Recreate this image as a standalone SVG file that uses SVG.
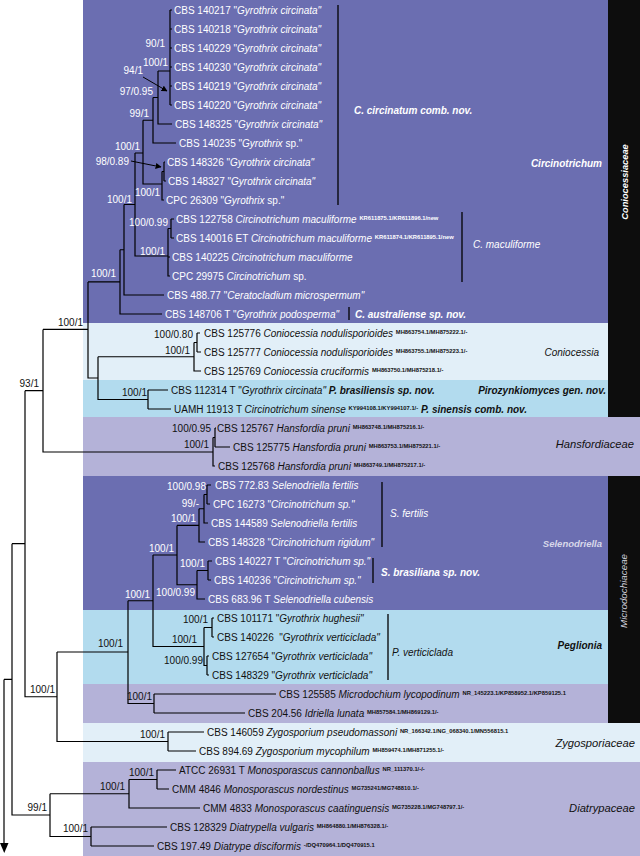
<svg xmlns="http://www.w3.org/2000/svg" width="640" height="856" viewBox="0 0 640 856">
<style>
text{font-family:"Liberation Sans",Arial,sans-serif;font-size:10px}
.w{fill:#fff}.k{fill:#111}
.i{font-style:italic}.b{font-weight:bold}
.s{font-size:5.8px;font-weight:bold;font-style:normal}
.e{text-anchor:end}
.fam{font-size:11.2px;font-style:italic;text-anchor:end;fill:#111}
.br{stroke:#000;stroke-width:1.2;fill:none}
.bar{stroke:#000;stroke-width:1.3}
.ar{stroke:#000;stroke-width:1;marker-end:url(#ah)}
</style>
<defs>
<marker id="ah" viewBox="0 0 10 10" refX="9" refY="5" markerWidth="6" markerHeight="6" orient="auto" markerUnits="userSpaceOnUse"><path d="M0,0 L10,5 L0,10 z" fill="#000"/></marker>
</defs>
<rect width="640" height="856" fill="#fff"/>
<g id="bands">
<rect x="83" y="0" width="525" height="323" fill="#6b6eb1"/>
<rect x="83" y="323" width="525" height="57" fill="#e2eff8"/>
<rect x="83" y="380" width="525" height="37" fill="#b2dbee"/>
<rect x="83" y="417" width="557" height="59" fill="#b4b2d8"/>
<rect x="83" y="476" width="525" height="134" fill="#6b6eb1"/>
<rect x="83" y="610" width="525" height="74" fill="#b2dbee"/>
<rect x="83" y="684" width="525" height="39" fill="#b4b2d8"/>
<rect x="83" y="723" width="557" height="39" fill="#e2eff8"/>
<rect x="83" y="762" width="557" height="94" fill="#b4b2d8"/>
<rect x="608" y="0" width="32" height="417" fill="#0d0d0d"/>
<rect x="608" y="476" width="32" height="247" fill="#0d0d0d"/>
</g>
<g id="connectors">
<path class="br" d="M170,10V105M170,10H172M170,29H172M170,48H172M170,67H172M170,86H172M170,105H172"/>
<path class="br" d="M158,71H170M158,71V124H172"/>
<path class="br" d="M153,97.5H158M153,97.5V143H176"/>
<path class="br" d="M143,120.25H153M143,120.25V184H162"/>
<path class="br" d="M162,171.5V200H164M162,171.5H164M164,162V181M164,162H165M164,181H166"/>
<path class="br" d="M135,153H143M135,153V256H168"/>
<path class="br" d="M168,228.5V276H170M168,228.5H171M171,219V238M171,219H174M171,238H174M168,257H170"/>
<path class="br" d="M124,204.5H135M124,204.5V295H164"/>
<path class="br" d="M120,249.75H124M120,249.75V314H162"/>
<path class="br" d="M88,281.9H120M88,281.9V378H98"/>
<path class="br" d="M98,356.75V399.5H148M98,356.75H194"/>
<path class="br" d="M194,342.5V371H201M194,342.5H197M197,333V352M197,333H200M197,352H201"/>
<path class="br" d="M148,390V409M148,390H168M148,409H171"/>
<path class="br" d="M43,329.4H88M43,329.4V452H213"/>
<path class="br" d="M213,437.5V466H215M213,437.5H215M215,428V447M215,428H216M215,447H230"/>
<path class="br" d="M25,390.7H43M25,390.7V696.75H57"/>
<path class="br" d="M57,652V741.5H168M57,652H128"/>
<path class="br" d="M128,600.75V703.5H154M128,600.75H153"/>
<path class="br" d="M153,555V646.5H204M153,555H177"/>
<path class="br" d="M177,525.4V584.75H197M177,525.4H199"/>
<path class="br" d="M199,508.75V542H205M199,508.75H204"/>
<path class="br" d="M204,494.5V523H208M204,494.5H207"/>
<path class="br" d="M207,485V504M207,485H211M207,504H210"/>
<path class="br" d="M197,570.5V599H205M197,570.5H208"/>
<path class="br" d="M208,561V580M208,561H212M208,580H211"/>
<path class="br" d="M204,627.5V665.5H207M204,627.5H212"/>
<path class="br" d="M212,618V637M212,618H214M212,637H214"/>
<path class="br" d="M207,656V675M207,656H209M207,675H209"/>
<path class="br" d="M154,694V713M154,694H276M154,713H245"/>
<path class="br" d="M168,732V751M168,732H204M168,751H196"/>
<path class="br" d="M12,543.7H25M12,543.7V815H50"/>
<path class="br" d="M50,793.75V836.5H91M50,793.75H129"/>
<path class="br" d="M129,779.5V808H200M129,779.5H157"/>
<path class="br" d="M157,770V789M157,770H176M157,789H169"/>
<path class="br" d="M91,827V846M91,827H167M91,846H154"/>
<path class="br" d="M4,679.4H12M4,679.4V844"/>
<polygon points="0,843 8.5,843 4.25,853" fill="#000"/>
<line class="ar" x1="143" y1="77" x2="167" y2="91"/>
<line class="ar" x1="131" y1="161" x2="161" y2="167"/>
</g>
<g id="tips">
<text id="t0" class="w" x="174" y="13.6">CBS 140217 "<tspan class="i">Gyrothrix circinata"</tspan></text>
<text id="t1" class="w" x="174" y="32.6">CBS 140218 "<tspan class="i">Gyrothrix circinata"</tspan></text>
<text id="t2" class="w" x="174" y="51.6">CBS 140229 "<tspan class="i">Gyrothrix circinata"</tspan></text>
<text id="t3" class="w" x="174" y="70.6">CBS 140230 "<tspan class="i">Gyrothrix circinata"</tspan></text>
<text id="t4" class="w" x="174" y="89.6">CBS 140219 "<tspan class="i">Gyrothrix circinata"</tspan></text>
<text id="t5" class="w" x="174" y="108.6">CBS 140220 "<tspan class="i">Gyrothrix circinata"</tspan></text>
<text id="t6" class="w" x="175" y="127.6">CBS 148325 "<tspan class="i">Gyrothrix circinata"</tspan></text>
<text id="t7" class="w" x="179" y="146.6">CBS 140235 "<tspan class="i">Gyrothrix</tspan> sp."</text>
<text id="t8" class="w" x="167" y="165.6">CBS 148326 "<tspan class="i">Gyrothrix circinata"</tspan></text>
<text id="t9" class="w" x="168" y="184.6">CBS 148327 "<tspan class="i">Gyrothrix circinata"</tspan></text>
<text id="t10" class="w" x="166" y="203.6">CPC 26309 "<tspan class="i">Gyrothrix</tspan> sp."</text>
<text id="t11" class="w" x="176" y="222.6">CBS 122758 <tspan class="i">Circinotrichum maculiforme</tspan> <tspan class="s" dy="-3">KR611875.1/KR611896.1/new</tspan></text>
<text id="t12" class="w" x="176" y="241.6">CBS 140016 ET <tspan class="i">Circinotrichum maculiforme</tspan> <tspan class="s" dy="-3">KR611874.1/KR611895.1/new</tspan></text>
<text id="t13" class="w" x="172" y="260.6">CBS 140225 <tspan class="i">Circinotrichum maculiforme</tspan></text>
<text id="t14" class="w" x="172" y="279.6">CPC 29975 <tspan class="i">Circinotrichum</tspan> sp.</text>
<text id="t15" class="w" x="167" y="298.6">CBS 488.77 "<tspan class="i">Ceratocladium microspermum"</tspan></text>
<text id="t16" class="w" x="165" y="317.6">CBS 148706 T "<tspan class="i">Gyrothrix podosperma"</tspan></text>
<text id="t17" class="k" x="204" y="336.6">CBS 125776 <tspan class="i">Coniocessia nodulisporioides</tspan> <tspan class="s" dy="-3">MH863754.1/MH875222.1/-</tspan></text>
<text id="t18" class="k" x="204" y="355.6">CBS 125777 <tspan class="i">Coniocessia nodulisporioides</tspan> <tspan class="s" dy="-3">MH863755.1/MH875223.1/-</tspan></text>
<text id="t19" class="k" x="204" y="374.6">CBS 125769 <tspan class="i">Coniocessia cruciformis</tspan> <tspan class="s" dy="-3">MH863750.1/MH875218.1/-</tspan></text>
<text id="t20" class="k" x="171" y="393.6">CBS 112314 T "<tspan class="i">Gyrothrix circinata"</tspan> <tspan class="i b">P. brasiliensis sp. nov.</tspan></text>
<text id="t21" class="k" x="174" y="412.6">UAMH 11913 T <tspan class="i">Circinotrichum sinense</tspan> <tspan class="s" dy="-3">KY994108.1/KY994107.1/-</tspan> <tspan class="i b" dy="3">P. sinensis comb. nov.</tspan></text>
<text id="t22" class="k" x="217" y="431.6">CBS 125767 <tspan class="i">Hansfordia pruni</tspan> <tspan class="s" dy="-3">MH863748.1/MH875216.1/-</tspan></text>
<text id="t23" class="k" x="233" y="450.6">CBS 125775 <tspan class="i">Hansfordia pruni</tspan> <tspan class="s" dy="-3">MH863753.1/MH875221.1/-</tspan></text>
<text id="t24" class="k" x="218" y="469.6">CBS 125768 <tspan class="i">Hansfordia pruni</tspan> <tspan class="s" dy="-3">MH863749.1/MH875217.1/-</tspan></text>
<text id="t25" class="w" x="215" y="488.6">CBS 772.83 <tspan class="i">Selenodriella fertilis</tspan></text>
<text id="t26" class="w" x="213" y="507.6">CPC 16273 "<tspan class="i">Circinotrichum sp."</tspan></text>
<text id="t27" class="w" x="211" y="526.6">CBS 144589 <tspan class="i">Selenodriella fertilis</tspan></text>
<text id="t28" class="w" x="208" y="545.6">CBS 148328 "<tspan class="i">Circinotrichum rigidum"</tspan></text>
<text id="t29" class="w" x="215" y="564.6">CBS 140227 T "<tspan class="i">Circinotrichum sp."</tspan></text>
<text id="t30" class="w" x="214" y="583.6">CBS 140236 "<tspan class="i">Circinotrichum sp."</tspan></text>
<text id="t31" class="w" x="208" y="602.6">CBS 683.96 T <tspan class="i">Selenodriella cubensis</tspan></text>
<text id="t32" class="k" x="217" y="621.6">CBS 101171 "<tspan class="i">Gyrothrix hughesii"</tspan></text>
<text id="t33" class="k" x="217" y="640.6" xml:space="preserve">CBS 140226  "<tspan class="i">Gyrothrix verticiclada"</tspan></text>
<text id="t34" class="k" x="212" y="659.6">CBS 127654 "<tspan class="i">Gyrothrix verticiclada"</tspan></text>
<text id="t35" class="k" x="212" y="678.6">CBS 148329 "<tspan class="i">Gyrothrix verticiclada"</tspan></text>
<text id="t36" class="k" x="279" y="697.6">CBS 125585 <tspan class="i">Microdochium lycopodinum</tspan> <tspan class="s" dy="-3">NR_145223.1/KP858952.1/KP859125.1</tspan></text>
<text id="t37" class="k" x="248" y="716.6">CBS 204.56 <tspan class="i">Idriella lunata</tspan> <tspan class="s" dy="-3">MH857584.1/MH869129.1/-</tspan></text>
<text id="t38" class="k" x="207" y="735.6">CBS 146059 <tspan class="i">Zygosporium pseudomassoni</tspan> <tspan class="s" dy="-3">NR_166342.1/NG_068340.1/MN556815.1</tspan></text>
<text id="t39" class="k" x="199" y="754.6">CBS 894.69 <tspan class="i">Zygosporium mycophilum</tspan> <tspan class="s" dy="-3">MH859474.1/MH871255.1/-</tspan></text>
<text id="t40" class="k" x="179" y="773.6">ATCC 26931 T <tspan class="i">Monosporascus cannonballus</tspan> <tspan class="s" dy="-3">NR_111370.1/-/-</tspan></text>
<text id="t41" class="k" x="172" y="792.6">CMM 4846 <tspan class="i">Monosporascus nordestinus</tspan> <tspan class="s" dy="-3">MG735241/MG748810.1/-</tspan></text>
<text id="t42" class="k" x="203" y="811.6">CMM 4833 <tspan class="i">Monosporascus caatinguensis</tspan> <tspan class="s" dy="-3">MG735228.1/MG748797.1/-</tspan></text>
<text id="t43" class="k" x="170" y="830.6">CBS 128329 <tspan class="i">Diatrypella vulgaris</tspan> <tspan class="s" dy="-3">MH864880.1/MH876328.1/-</tspan></text>
<text id="t44" class="k" x="157" y="849.6">CBS 197.49 <tspan class="i">Diatrype disciformis</tspan> <tspan class="s" dy="-3">-/DQ470964.1/DQ470915.1</tspan></text>
</g>
<g id="support">
<text class="w e" x="165" y="46.6">90/1</text>
<text class="w e" x="168" y="65.6">100/1</text>
<text class="w e" x="143" y="73.6">94/1</text>
<text class="w e" x="153" y="94.6">97/0.95</text>
<text class="w e" x="149" y="116.6">99/1</text>
<text class="w e" x="140" y="149.6">100/1</text>
<text class="w e" x="129" y="164.6">98/0.89</text>
<text class="w e" x="160" y="195.6">100/1</text>
<text class="w e" x="132" y="202.6">100/1</text>
<text class="w e" x="168" y="225.6">100/0.99</text>
<text class="w e" x="165" y="254.6">100/1</text>
<text class="w e" x="116" y="276.6">100/1</text>
<text class="k e" x="83" y="325.6">100/1</text>
<text class="k e" x="193" y="337.6">100/0.80</text>
<text class="k e" x="190" y="353.6">100/1</text>
<text class="k e" x="39" y="386.6">93/1</text>
<text class="k e" x="147" y="395.6">100/1</text>
<text class="k e" x="211" y="431.6">100/0.95</text>
<text class="k e" x="209" y="447.6">100/1</text>
<text class="w e" x="206" y="489.6">100/0.98</text>
<text class="w e" x="199" y="506.6">99/-</text>
<text class="w e" x="196" y="521.6">100/1</text>
<text class="w e" x="174" y="551.6">100/1</text>
<text class="w e" x="205" y="566.6">100/1</text>
<text class="w e" x="195" y="595.6">100/0.99</text>
<text class="w e" x="150" y="597.6">100/1</text>
<text class="k e" x="208" y="622.6">100/1</text>
<text class="k e" x="197" y="642.6">100/1</text>
<text class="k e" x="123" y="646.6">100/1</text>
<text class="k e" x="203" y="663.6">100/0.99</text>
<text class="k e" x="55" y="692.6">100/1</text>
<text class="k e" x="152" y="699.6">100/1</text>
<text class="k e" x="165" y="737.6">100/1</text>
<text class="k e" x="154" y="775.6">100/1</text>
<text class="k e" x="125" y="789.6">100/1</text>
<text class="k e" x="47" y="810.6">99/1</text>
<text class="k e" x="88" y="831.6">100/1</text>
</g>
<g id="clades">
<line class="bar" x1="338" y1="5" x2="338" y2="205"/>
<text class="w i b" x="354" y="113.6">C. circinatum comb. nov.</text>
<text class="w i b e" x="602" y="166.6">Circinotrichum</text>
<line class="bar" x1="462" y1="212" x2="462" y2="282"/>
<text class="w i" x="473" y="247.6">C. maculiforme</text>
<line class="bar" x1="349" y1="307" x2="349" y2="320"/>
<text class="w i b" x="355" y="317.6">C. australiense sp. nov.</text>
<text class="k i e" x="599" y="355.6">Coniocessia</text>
<text class="k i b e" x="606" y="393.6">Pirozynkiomyces gen. nov.</text>
<text class="fam" x="634" y="448">Hansfordiaceae</text>
<line class="bar" x1="382" y1="482" x2="382" y2="547"/>
<text class="w i" x="390" y="516.6">S. fertilis</text>
<text class="i b e" x="602" y="547.4" style="fill:#d8d8ea;font-size:9.5px">Selenodriella</text>
<line class="bar" x1="373" y1="558" x2="373" y2="583"/>
<text class="w i b" x="381" y="575.6">S. brasiliana sp. nov.</text>
<line class="bar" x1="388" y1="614" x2="388" y2="680"/>
<text class="k i" x="392" y="655.6">P. verticiclada</text>
<text class="k i b e" x="602" y="648.6">Peglionia</text>
<text class="fam" x="635" y="746.5">Zygosporiaceae</text>
<text class="fam" x="635" y="812">Diatrypaceae</text>
<text class="i b" transform="translate(628,182) rotate(-90)" text-anchor="middle" style="fill:#fff;font-size:9.3px">Coniocessiaceae</text>
<text class="i" transform="translate(627,591) rotate(-90)" text-anchor="middle" style="fill:#d0d0dc;font-size:9.8px">Microdochiaceae</text>
</g>
</svg>
